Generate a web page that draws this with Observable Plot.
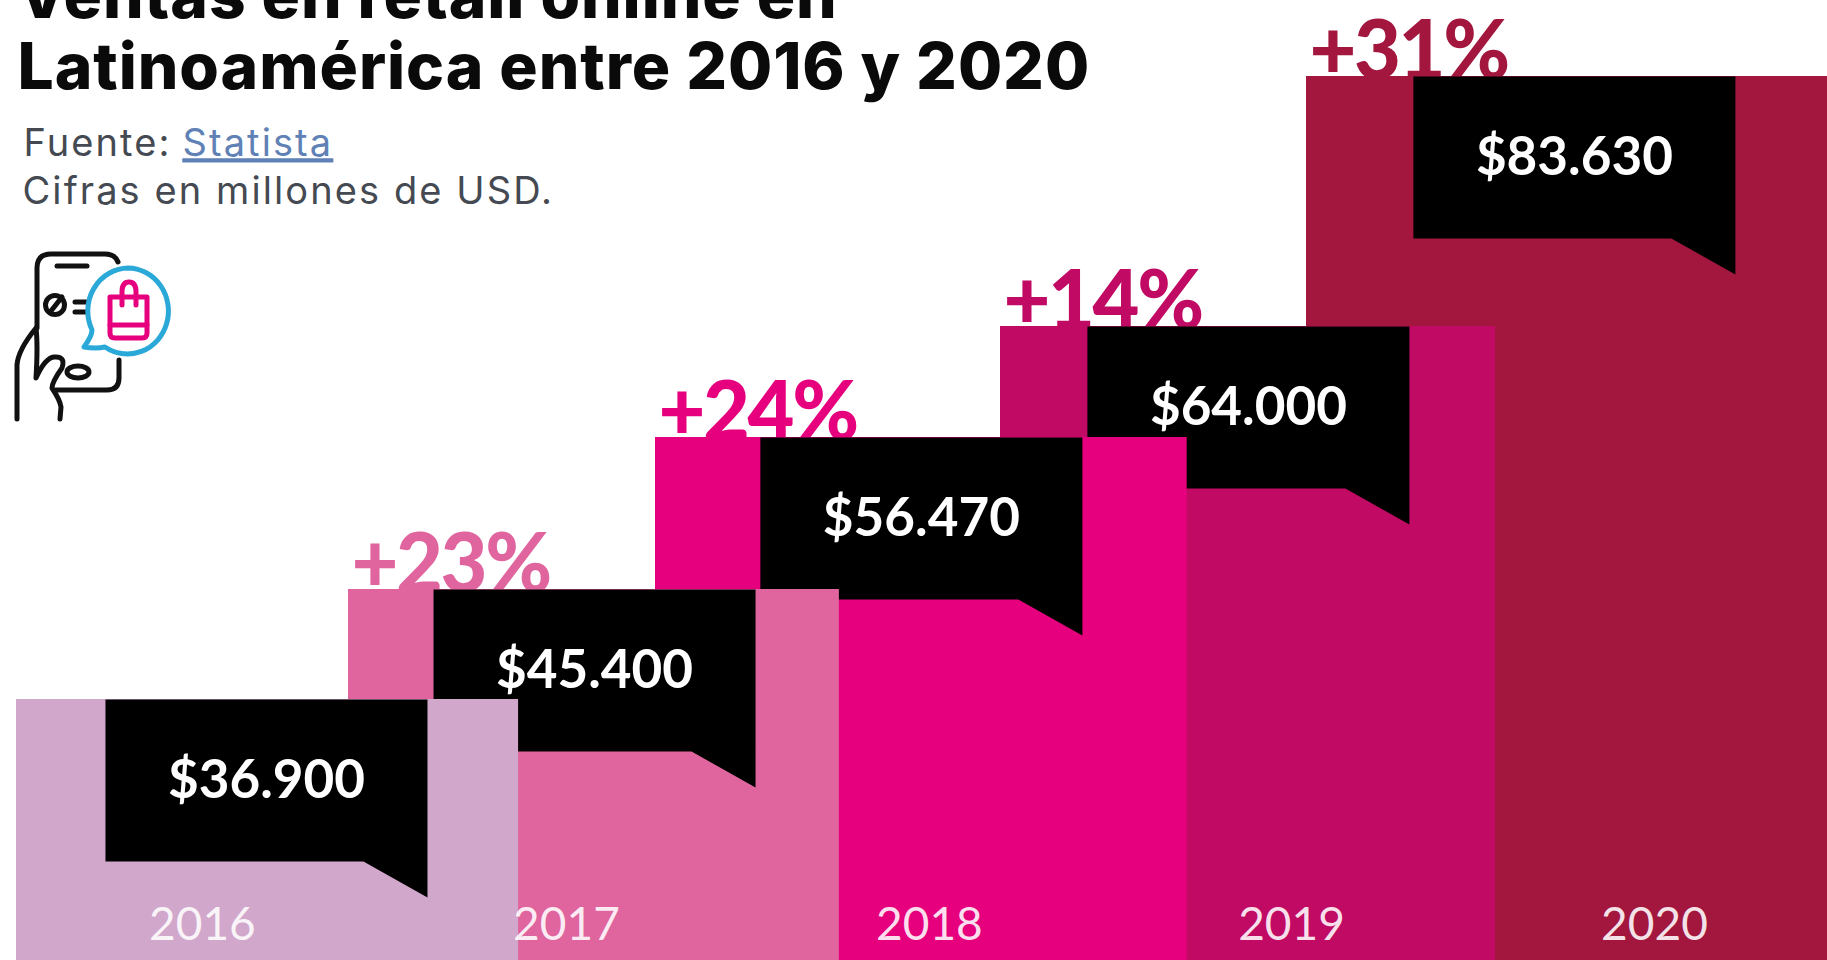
<!DOCTYPE html>
<html lang="es">
<head>
<meta charset="utf-8">
<script src="https://cdn.jsdelivr.net/npm/d3@7"></script>
<script src="https://cdn.jsdelivr.net/npm/@observablehq/plot@0.6"></script>
<style>
  html, body { margin: 0; padding: 0; background: #fff; overflow: hidden; }
  #stage { position: relative; width: 1827px; height: 960px; overflow: hidden; }
  #stage > svg, #stage figure svg { display: block; }
  #icon { position: absolute; left: 0; top: 0; pointer-events: none; }
  .title text { letter-spacing: 0.015em; }
  .pct text { letter-spacing: -0.03em; }
  .sub text { letter-spacing: 0.055em; }
  .source-link text, .source-link a { text-decoration: underline; letter-spacing: 0.055em; }
</style>
</head>
<body>
<div id="stage"></div>
<script>
const years = [2016, 2017, 2018, 2019, 2020];
const sales = [36900, 45400, 56470, 64000, 83630];
const salesLabels = ["$36.900", "$45.400", "$56.470", "$64.000", "$83.630"];
const growth = [null, 23, 24, 14, 31];
const barColors = ["#d2a7cc", "#e0659f", "#e6007e", "#c10a64", "#a3173f"];

// Overlapping steps, expressed in "year" units of the x scale.
const barEnds = [2017.554, 2018.533, 2019.61, 2020.589, 2021.63];
const calloutStarts = [2016.268, 2017.277, 2018.304, 2019.284, 2020.333];
const yearLabelAt = [2016.56, 2017.71, 2018.794, 2019.951, 2021.084];

const rows = years.map((year, i) => ({
  year, value: sales[i], label: salesLabels[i], growth: growth[i],
  end: barEnds[i], callout: calloutStarts[i], yearAt: yearLabelAt[i]
}));

// Speech-box shape, anchored on its top-left corner.
const calloutSymbol = {
  draw(c) {
    c.moveTo(0, 0); c.lineTo(322, 0); c.lineTo(322, 198);
    c.lineTo(258, 162); c.lineTo(0, 162); c.closePath();
  }
};

const display = "Inter, 'Noto Sans', sans-serif";
const lato = "Lato, sans-serif";

const yearMarks = rows.slice().reverse().flatMap((d) => [
  ...(d.growth == null ? [] : [Plot.text([d], {
    x: "year", y: "value", text: (r) => `+${r.growth}%`, fill: "year",
    textAnchor: "start", lineAnchor: "bottom", dx: 3, dy: 2,
    fontFamily: lato, fontWeight: 900, fontSize: 81, className: "pct"
  })]),
  Plot.rect([d], {x1: "year", x2: "end", y1: () => 0, y2: "value", fill: "year"}),
  Plot.dot([d], {x: "callout", y: "value", symbol: calloutSymbol, fill: "#000", stroke: "none"}),
  Plot.text([d], {
    x: "callout", y: "value", text: "label", dx: 161, dy: 82, fill: "#fff",
    textAnchor: "middle", lineAnchor: "middle",
    fontFamily: lato, fontWeight: 700, fontSize: 53
  })
]);

const chart = Plot.plot({
  width: 1827,
  height: 960,
  margin: 0,
  style: {background: "#fff", overflow: "hidden"},
  x: {type: "linear", axis: null, domain: [2016, 2017, 2018, 2019, 2020, 2021], range: [16, 348, 655, 1000, 1306, 1627]},
  y: {type: "linear", axis: null, domain: [0, ...sales], range: [960, 699, 589, 437, 326, 76]},
  color: {type: "ordinal", domain: years, range: barColors},
  marks: [
    ...yearMarks,
    Plot.text(rows, {
      x: "yearAt", text: (d) => String(d.year), frameAnchor: "bottom", dy: -21,
      fill: "#fff", fillOpacity: 0.88, textAnchor: "middle", lineAnchor: "bottom",
      fontFamily: lato, fontSize: 46
    }),
    Plot.text(["Ventas en retail online en\nLatinoamérica entre 2016 y 2020"], {
      frameAnchor: "top-left", dx: 17, dy: -33, textAnchor: "start", lineAnchor: "top",
      lineHeight: 1.11, fontFamily: display, fontWeight: 800, fontSize: 64, fill: "#0a0a0a", className: "title"
    }),
    Plot.text(["Fuente:"], {
      frameAnchor: "top-left", dx: 23, dy: 129, textAnchor: "start", lineAnchor: "top",
      fontFamily: display, fontSize: 38, fill: "#454a52", className: "sub"
    }),
    Plot.text(["Statista"], {
      frameAnchor: "top-left", dx: 182, dy: 129, textAnchor: "start", lineAnchor: "top",
      fontFamily: display, fontSize: 38, fill: "#5f81b5", className: "source-link",
      href: () => "https://www.statista.com"
    }),
    Plot.text(["Cifras en millones de USD."], {
      frameAnchor: "top-left", dx: 22, dy: 177, textAnchor: "start", lineAnchor: "top",
      fontFamily: display, fontSize: 38, fill: "#454a52", className: "sub"
    })
  ]
});

const stage = document.getElementById("stage");
stage.appendChild(chart);
stage.insertAdjacentHTML("beforeend", `
<svg id="icon" width="200" height="440" viewBox="0 0 200 440" fill="none" stroke-linecap="round" stroke-linejoin="round" aria-hidden="true">
  <g stroke="#111" stroke-width="5">
    <path d="M37 328 V268 Q37 254 51 254 H105 Q115 254 118 262"/>
    <path d="M119 360 V378 Q119 390 107 390 H56"/>
    <path d="M17 419 V365 Q18 350 36 328 Q38 345 36 378 Q45 358 54 357 Q66 356 62 368 Q52 382 52 388 Q60 400 61 407 L60 419"/>
    <ellipse cx="78" cy="372" rx="11" ry="6"/>
    <path d="M57 266 H87"/>
    <circle cx="55" cy="305" r="9.5"/>
    <path d="M51 311 L62 297"/>
    <path d="M75 302 H86 M75 312 H86"/>
  </g>
  <path d="M128 268 A41 43 0 1 1 105 347 Q96 349 84 347 Q92 336 92 330 A41 43 0 0 1 128 268 Z" fill="#fff" stroke="#2aa9d8" stroke-width="5"/>
  <g stroke="#e6007e" stroke-width="5">
    <path d="M110 297 H147 V333 Q147 338 142 338 H115 Q110 338 110 333 Z"/>
    <path d="M110 325 H147"/>
    <path d="M122 305 V292 Q122 282 129 282 Q136 282 136 292 V305"/>
  </g>
</svg>`);
</script>
</body>
</html>
